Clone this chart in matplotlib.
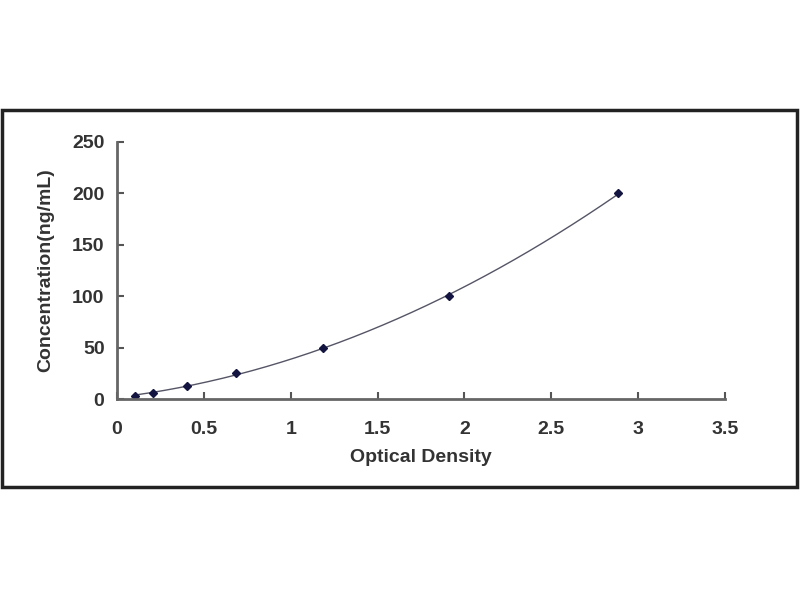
import numpy as np
import matplotlib.pyplot as plt
from matplotlib.patches import Rectangle

# standard curve points
od = [0.104, 0.207, 0.405, 0.683, 1.188, 1.913, 2.886]
conc = [3.12, 6.25, 12.5, 25, 50, 100, 200]

x_ticks = [0, 0.5, 1, 1.5, 2, 2.5, 3, 3.5]
x_tick_labels = ["0", "0.5", "1", "1.5", "2", "2.5", "3", "3.5"]
y_ticks = [0, 50, 100, 150, 200, 250]

plt.rcParams['font.family'] = ['Liberation Sans', 'DejaVu Sans']

fig = plt.figure(figsize=(8, 6), dpi=100)
ax = fig.add_axes([117 / 800, 1 - 399 / 600, (725 - 117) / 800, (399 - 142) / 600])

# outer frame round the chart
fig.patches.append(Rectangle((2 / 800, 1 - 487 / 600), 795 / 800, 377 / 600,
                             transform=fig.transFigure, fill=False,
                             edgecolor='#222222', linewidth=2.5))

# fitted curve through the standards
coef = np.polyfit(od, conc, 2)
xs = np.linspace(min(od), max(od), 200)
ax.plot(xs, np.polyval(coef, xs), color='#555566', lw=1.0)
ax.plot(od, conc, linestyle='none', marker='D', markersize=4.5,
        color='#141440')

ax.set_xlim(0, 3.5)
ax.set_ylim(0, 250)
ax.set_xticks(x_ticks)
ax.set_xticklabels(x_tick_labels)
ax.set_yticks(y_ticks)

for side in ['top', 'right']:
    ax.spines[side].set_visible(False)
for side in ['left', 'bottom']:
    ax.spines[side].set_color('#666666')
    ax.spines[side].set_linewidth(2.0)

ax.tick_params(direction='in', length=5, width=1.5, color='#555555',
               labelsize=14, labelcolor='#333333')
ax.tick_params(axis='x', pad=16)
ax.tick_params(axis='y', pad=9)
for lab in ax.get_xticklabels() + ax.get_yticklabels():
    lab.set_fontweight('bold')

ax.set_xlabel('Optical Density', fontsize=14, fontweight='bold',
              color='#333333', labelpad=8)
ax.set_ylabel('Concentration(ng/mL)', fontsize=14, fontweight='bold',
              color='#333333', labelpad=13)

fig.savefig('out.png', dpi=100)
